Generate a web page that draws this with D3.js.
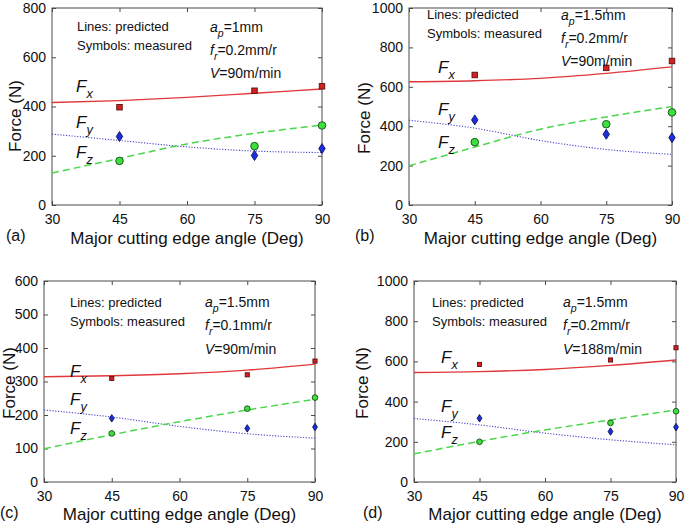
<!DOCTYPE html>
<html><head><meta charset="utf-8">
<script src="https://cdn.jsdelivr.net/npm/d3@7"></script>
<style>
html,body{margin:0;padding:0;background:#fff;}
svg{display:block;font-family:"Liberation Sans",Arial,Helvetica,sans-serif;}
</style></head>
<body><svg id="chart" width="685" height="525"></svg>
<script>
// ---------- data ----------
const predAngles = [30, 45, 60, 75, 90];
const measAngles = [45, 75, 90];
const xTicks = [30, 45, 60, 75, 90];

const panelNames = ["(a)", "(b)", "(c)", "(d)"];
const yMaxes = [800, 1000, 600, 1000];
const yStepSizes = [200, 200, 100, 200];

const apValues = ["1", "1.5", "1.5", "1.5"];
const frValues = ["0.2", "0.2", "0.1", "0.2"];
const vValues = ["90", "90", "90", "188"];

// predicted (lines)
const predFx = [
  [416, 424, 437, 454, 471],
  [626, 631, 643, 668, 701],
  [314, 317, 323, 334, 352],
  [545, 549, 560, 580, 607]
];
const predFy = [
  [288, 262, 236, 219, 213],
  [430, 390, 327, 282, 257],
  [215, 194, 166, 144, 131],
  [316, 284, 243, 210, 185]
];
const predFz = [
  [130, 189, 248, 291, 324],
  [199, 294, 385, 447, 500],
  [99, 141, 180, 215, 247],
  [140, 202, 259, 309, 359]
];
// measured (symbols)
const measFx = [
  [397, 464, 482],
  [660, 696, 731],
  [309, 320, 361],
  [585, 607, 668]
];
const measFy = [
  [278, 201, 229],
  [432, 359, 342],
  [190, 160, 164],
  [317, 251, 273]
];
const measFz = [
  [179, 239, 323],
  [319, 410, 470],
  [145, 219, 252],
  [200, 294, 352]
];

// ---------- layout (pixels) ----------
const layouts = [
  {rect:[52, 8, 322, 205], letter:[6, 241], ylab:[15, 116], xlabY:244, notes:[77, 31, 50], params:[210, 32, 55, 78], fLab:[76, 92, 128, 158], mk:1},
  {rect:[409, 8, 672, 205], letter:[355, 241], ylab:[364, 118], xlabY:244, notes:[427, 19, 38], params:[561, 20, 43, 66], fLab:[438, 73, 115, 148], mk:1},
  {rect:[44, 281, 315, 482], letter:[0, 518], ylab:[9, 383], xlabY:520, notes:[70, 307, 326], params:[205, 307, 330, 354], fLab:[70, 377, 405, 434], mk:0.75},
  {rect:[414, 281, 676, 482], letter:[363, 518], ylab:[362, 383], xlabY:520, notes:[432, 307, 326], params:[563, 307, 330, 354], fLab:[441, 363, 412, 438], mk:0.75}
];

const svg = d3.select("#chart");
const frameColor = "#4a4a4a";

layouts.forEach((L, i) => {
  const [x0, y0, x1, y1] = L.rect;
  const x = d3.scaleLinear().domain([30, 90]).range([x0, x1]);
  const y = d3.scaleLinear().domain([0, yMaxes[i]]).range([y1, y0]);
  const yTicks = d3.range(0, yMaxes[i] + 1, yStepSizes[i]);
  const g = svg.append("g");
  const fmt = d3.format("d");

  // axes with inward ticks
  const tl = 4;
  g.append("g").attr("transform", `translate(0,${y1})`)
    .call(d3.axisBottom(x).tickValues(xTicks).tickFormat(fmt).tickSize(-tl).tickPadding(7).tickSizeOuter(0))
    .call(a => { a.select(".domain").remove(); a.selectAll("line").attr("stroke", frameColor);
      a.selectAll("text").attr("font-size", 14).attr("fill", "#111").attr("dy", "0.85em"); });
  g.append("g").attr("transform", `translate(0,${y0})`)
    .call(d3.axisTop(x).tickValues(xTicks).tickSize(-tl).tickFormat("").tickSizeOuter(0))
    .call(a => { a.select(".domain").remove(); a.selectAll("line").attr("stroke", frameColor); });
  g.append("g").attr("transform", `translate(${x0},0)`)
    .call(d3.axisLeft(y).tickValues(yTicks).tickFormat(fmt).tickSize(-tl).tickPadding(6).tickSizeOuter(0))
    .call(a => { a.select(".domain").remove(); a.selectAll("line").attr("stroke", frameColor);
      a.selectAll("text").attr("font-size", 14).attr("fill", "#111"); });
  g.append("g").attr("transform", `translate(${x1},0)`)
    .call(d3.axisRight(y).tickValues(yTicks).tickSize(-tl).tickFormat("").tickSizeOuter(0))
    .call(a => { a.select(".domain").remove(); a.selectAll("line").attr("stroke", frameColor); });
  g.append("rect").attr("x", x0).attr("y", y0).attr("width", x1 - x0).attr("height", y1 - y0)
    .attr("fill", "none").attr("stroke", frameColor).attr("stroke-width", 1);

  // predicted lines
  const line = d3.line().x(d => x(d[0])).y(d => y(d[1])).curve(d3.curveMonotoneX);
  const clipId = "clip" + i;
  svg.append("clipPath").attr("id", clipId).append("rect")
    .attr("x", x0).attr("y", y0).attr("width", x1 - x0).attr("height", y1 - y0);
  const lg = g.append("g").attr("clip-path", `url(#${clipId})`);
  lg.append("path").datum(d3.zip(predAngles, predFx[i])).attr("d", line)
    .attr("fill", "none").attr("stroke", "#e0383a").attr("stroke-width", 1.4);
  lg.append("path").datum(d3.zip(predAngles, predFy[i])).attr("d", line)
    .attr("fill", "none").attr("stroke", "#4646c8").attr("stroke-width", 1.1).attr("stroke-dasharray", "1.2,1.6");
  lg.append("path").datum(d3.zip(predAngles, predFz[i])).attr("d", line)
    .attr("fill", "none").attr("stroke", "#4cd64c").attr("stroke-width", 1.5).attr("stroke-dasharray", "7,4");

  // measured symbols
  const s = L.mk;
  const sq = 5.5 * s, r = 3.8 * s, dm = 4.0 * s;
  g.selectAll(".mx").data(d3.zip(measAngles, measFx[i])).join("rect")
    .attr("x", d => x(d[0]) - sq / 2).attr("y", d => y(d[1]) - sq / 2)
    .attr("width", sq).attr("height", sq)
    .attr("fill", "#d42020").attr("stroke", "#5a1010").attr("stroke-width", 0.9);
  g.selectAll(".mz").data(d3.zip(measAngles, measFz[i])).join("circle")
    .attr("cx", d => x(d[0])).attr("cy", d => y(d[1])).attr("r", r)
    .attr("fill", "#3be03b").attr("stroke", "#1a4a1a").attr("stroke-width", 0.9);
  g.selectAll(".my").data(d3.zip(measAngles, measFy[i])).join("path")
    .attr("d", d => { const cx = x(d[0]), cy = y(d[1]);
      return `M${cx},${cy - dm * 1.25}L${cx + dm * 0.8},${cy}L${cx},${cy + dm * 1.25}L${cx - dm * 0.8},${cy}Z`; })
    .attr("fill", "#1a2ee0").attr("stroke", "#10105a").attr("stroke-width", 0.9);

  // axis titles
  g.append("text").attr("x", (x0 + x1) / 2).attr("y", L.xlabY).attr("text-anchor", "middle")
    .attr("font-size", 17).attr("fill", "#111").text("Major cutting edge angle (Deg)");
  g.append("text").attr("transform", `translate(${L.ylab[0]},${L.ylab[1]}) rotate(-90)`)
    .attr("text-anchor", "middle").attr("dy", "0.35em")
    .attr("font-size", 17).attr("fill", "#111").text("Force (N)");
  g.append("text").attr("x", L.letter[0]).attr("y", L.letter[1])
    .attr("font-size", 16).attr("fill", "#111").text(panelNames[i]);

  // notes
  g.append("text").attr("x", L.notes[0]).attr("y", L.notes[1]).attr("font-size", 13).attr("fill", "#111").text("Lines: predicted");
  g.append("text").attr("x", L.notes[0]).attr("y", L.notes[2]).attr("font-size", 13).attr("fill", "#111").text("Symbols: measured");

  // parameters
  function subText(xp, yp, main, sub, rest, fs) {
    const t = g.append("text").attr("x", xp).attr("y", yp).attr("font-size", fs).attr("fill", "#111");
    t.append("tspan").attr("font-style", "italic").text(main);
    if (sub) t.append("tspan").attr("font-style", "italic").attr("font-size", fs * 0.75).attr("dy", fs * 0.35).text(sub);
    if (rest) t.append("tspan").attr("dy", sub ? -fs * 0.35 : 0).text(rest);
    return t;
  }
  subText(L.params[0], L.params[1], "a", "p", "=" + apValues[i] + "mm", 14);
  subText(L.params[0], L.params[2], "f", "r", "=" + frValues[i] + "mm/r", 14);
  subText(L.params[0], L.params[3], "V", null, null, 14).append("tspan").text("=" + vValues[i] + "m/min");

  // force labels
  subText(L.fLab[0], L.fLab[1], "F", "x", null, 17);
  subText(L.fLab[0], L.fLab[2], "F", "y", null, 17);
  subText(L.fLab[0], L.fLab[3], "F", "z", null, 17);
});
</script></body></html>
